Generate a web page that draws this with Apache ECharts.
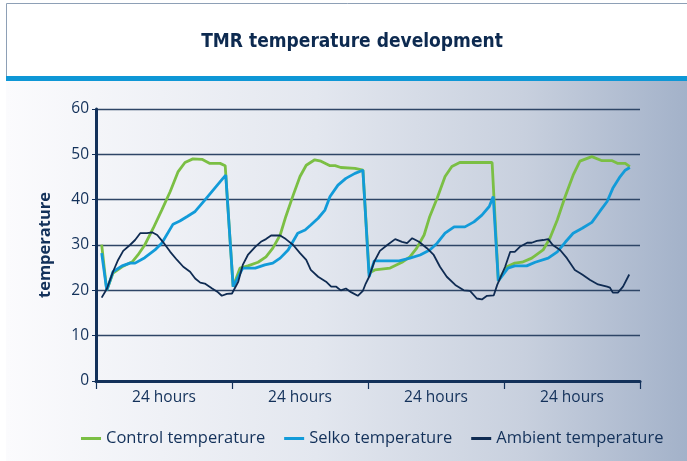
<!DOCTYPE html>
<html>
<head>
<meta charset="utf-8">
<script src="https://cdn.jsdelivr.net/npm/echarts@6/dist/echarts.min.js"></script>
<style>
  html, body { margin: 0; padding: 0; background: #fff; }
  #chart { width: 687px; height: 461px; }
</style>
</head>
<body>
<div id="chart"></div>
<script>
// x = hours over four 24 hour periods, y = temperature
let dayLabels = ["24 hours", "24 hours", "24 hours", "24 hours"];

let control = [
    [1.0, 30.1], [1.9, 20.0], [3.0, 23.8], [4.6, 25.2], [6.4, 26.3], [7.4, 27.8], [8.6, 30.0], [10.1, 33.7],
    [11.6, 37.7], [13.1, 41.8], [14.5, 46.2], [15.7, 48.2], [17.1, 49.0], [18.7, 48.9], [20.1, 48.0], [21.9, 48.0],
    [22.8, 47.5], [24.2, 20.8],
    [25.4, 24.9], [26.8, 25.4], [28.6, 26.2], [30.0, 27.4], [31.2, 29.3], [32.5, 32.2], [33.5, 36.3], [34.8, 41.0],
    [36.0, 45.1], [37.1, 47.6], [38.6, 48.8], [39.7, 48.5], [41.3, 47.5], [42.2, 47.5], [43.2, 47.1], [45.7, 46.9],
    [47.1, 46.5], [48.2, 23.8],
    [49.2, 24.5], [51.9, 24.9], [54.0, 26.2], [55.4, 27.4], [56.6, 29.3], [57.9, 32.2], [58.9, 36.3], [60.2, 40.3],
    [61.6, 45.1], [62.8, 47.3], [64.2, 48.2], [69.9, 48.2], [71.0, 22.1],
    [72.5, 25.2], [73.9, 26.0], [75.2, 26.2], [76.9, 27.1], [78.9, 28.9], [80.1, 31.5], [81.4, 35.5], [82.8, 40.7],
    [84.2, 45.4], [85.4, 48.5], [87.5, 49.5], [89.3, 48.6], [91.1, 48.6], [92.1, 48.0], [93.4, 48.0], [94.2, 47.3]
];

let selko = [
    [1.0, 28.2], [1.9, 20.0], [3.0, 24.1], [4.6, 25.4], [6.0, 26.0], [6.9, 26.0], [8.6, 27.2], [10.4, 28.9],
    [11.6, 30.4], [13.6, 34.6], [14.8, 35.3], [16.1, 36.3], [17.5, 37.4], [19.2, 39.9], [21.0, 42.6], [22.4, 44.7],
    [22.9, 45.4], [24.2, 20.8],
    [25.9, 24.9], [28.1, 24.9], [29.8, 25.6], [31.2, 26.0], [32.5, 27.1], [33.9, 28.9], [35.6, 32.6], [36.9, 33.3],
    [37.9, 34.4], [39.2, 35.9], [40.4, 37.7], [41.3, 40.7], [42.7, 43.2], [44.1, 44.7], [45.7, 45.8], [47.1, 46.5],
    [48.2, 23.0],
    [49.1, 26.5], [51.0, 26.5], [53.5, 26.5], [55.4, 27.1], [57.2, 27.8], [58.9, 28.9], [60.2, 30.4], [61.6, 32.6],
    [63.2, 34.0], [65.1, 34.0], [66.7, 35.1], [68.1, 36.6], [69.4, 38.5], [70.1, 40.7], [71.0, 22.1],
    [72.7, 24.9], [73.9, 25.4], [76.0, 25.4], [77.5, 26.2], [79.8, 27.1], [81.4, 28.5], [82.8, 30.6], [84.2, 32.6],
    [85.8, 33.7], [87.5, 35.0], [88.9, 37.4], [90.2, 39.6], [91.2, 42.5], [92.5, 45.1], [93.4, 46.5], [94.2, 47.1]
];

let ambient = [
    [1.0, 18.4], [1.9, 20.3], [3.0, 24.1], [3.9, 26.7], [4.8, 28.7], [6.0, 30.0], [6.9, 31.1], [7.8, 32.6],
    [9.0, 32.6], [9.9, 32.8], [10.8, 32.2], [11.8, 30.7], [13.1, 28.5], [14.3, 26.7], [15.4, 25.2], [16.6, 24.1],
    [17.5, 22.6], [18.4, 21.7], [19.2, 21.5], [20.5, 20.4], [21.4, 19.7], [22.2, 18.8], [23.1, 19.2], [24.0, 19.3],
    [25.1, 21.9], [25.9, 25.6], [26.8, 27.8], [28.1, 29.6], [29.1, 30.7], [30.0, 31.3], [30.9, 32.1], [32.5, 32.1],
    [33.5, 31.3], [34.8, 30.0], [36.0, 28.2], [37.1, 26.7], [37.9, 24.5], [39.2, 23.0], [40.6, 21.9], [41.5, 20.8],
    [42.4, 20.8], [43.2, 20.0], [44.1, 20.4], [45.0, 19.6], [46.2, 18.8], [47.1, 19.9], [47.6, 21.5],
    [48.2, 23.0], [49.1, 26.3], [50.1, 28.7], [51.4, 30.0], [52.8, 31.3], [54.0, 30.7], [54.9, 30.4], [55.8, 31.5],
    [57.0, 30.7], [58.4, 29.3], [59.6, 27.8], [60.7, 25.2], [61.9, 23.0], [63.4, 21.2], [64.9, 20.0], [66.0, 19.9],
    [67.2, 18.2], [68.1, 18.0], [69.0, 18.8], [70.2, 18.9], [70.8, 21.2],
    [72.2, 25.2], [73.1, 28.5], [73.9, 28.5], [74.8, 29.6], [76.1, 30.5], [76.9, 30.5], [77.8, 30.9], [78.9, 31.1],
    [79.8, 31.3], [80.6, 30.0], [81.9, 28.9], [83.1, 27.1], [84.5, 24.5], [85.8, 23.5], [87.2, 22.3], [88.6, 21.3],
    [90.2, 20.8], [90.7, 20.6], [91.2, 19.5], [92.1, 19.5], [93.0, 20.8], [94.1, 23.5]
];

let navy = "#13315a";
let font = "'Open Sans', 'Noto Sans', sans-serif";

let chart = echarts.init(document.getElementById("chart"), null, { renderer: "canvas" });

let line = (name, data, color, width) => ({
    name: name,
    type: "line",
    data: data,
    xAxisIndex: 0,
    symbol: "none",
    smooth: false,
    lineStyle: { color: color, width: width },
    itemStyle: { color: color },
    z: 3
});

chart.setOption({
    animation: false,
    graphic: [
        // page background gradient
        {
            type: "rect", z: -10, silent: true,
            shape: { x: 6, y: 81, width: 690, height: 390 },
            style: {
                fill: new echarts.graphic.LinearGradient(0, 0, 1, 0, [
                    { offset: 0, color: "#fbfbfd" },
                    { offset: 0.45, color: "#e3e7ef" },
                    { offset: 0.75, color: "#c8d0de" },
                    { offset: 1, color: "#a1b0c8" }
                ])
            }
        },
        // title box
        {
            type: "rect", z: -10, silent: true,
            shape: { x: 6.5, y: 3.5, width: 690, height: 73 },
            style: { fill: "#ffffff", stroke: "#8ea0b6", lineWidth: 1 }
        },
        {
            type: "rect", z: -9, silent: true,
            shape: { x: 6, y: 76, width: 690, height: 5 },
            style: { fill: "#0e97d6" }
        },
        {
            type: "text", z: 5, silent: true,
            x: 352, y: 42,
            style: {
                text: "TMR temperature development",
                fill: "#0d2a50",
                font: "bold 19px 'Liberation Sans Narrow', 'DejaVu Sans Condensed', sans-serif",
                align: "center",
                verticalAlign: "middle"
            }
        }
    ],
    grid: { left: 96, right: 47, top: 109, bottom: 80, containLabel: false },
    legend: {
        left: 76,
        top: 425,
        icon: "rect",
        itemWidth: 20,
        itemHeight: 3,
        itemGap: 19,
        itemStyle: { borderWidth: 0 },
        textStyle: { color: navy, fontSize: 16.5, fontFamily: font },
        data: ["Control temperature", "Selko temperature", "Ambient temperature"]
    },
    xAxis: [
        {
            type: "value",
            min: 0,
            max: 96,
            interval: 24,
            axisLine: { show: true, onZero: false, lineStyle: { color: navy, width: 3 } },
            axisTick: { show: true, length: 8, lineStyle: { color: navy, width: 1.2 } },
            axisLabel: { show: false },
            splitLine: { show: false }
        },
        {
            type: "category",
            data: dayLabels,
            boundaryGap: true,
            position: "bottom",
            axisLine: { show: false },
            axisTick: { show: false },
            axisLabel: { color: navy, fontSize: 15.5, fontFamily: font, margin: 9 },
            splitLine: { show: false }
        }
    ],
    yAxis: {
        type: "value",
        min: 0,
        max: 60,
        interval: 10,
        name: "temperature",
        nameLocation: "middle",
        nameGap: 42,
        nameTextStyle: { color: navy, fontSize: 16.5, fontWeight: "bold", fontFamily: font },
        axisLine: { show: true, lineStyle: { color: navy, width: 3 } },
        axisTick: { show: true, length: 4, lineStyle: { color: navy, width: 1 } },
        axisLabel: { color: navy, fontSize: 15.5, fontFamily: font, margin: 7 },
        splitLine: { show: true, lineStyle: { color: "#2e4566", width: 1.3 } }
    },
    series: [
        line("Control temperature", control, "#7bbf44", 2.8),
        line("Selko temperature", selko, "#129bd9", 2.8),
        line("Ambient temperature", ambient, "#0f2b52", 1.8)
    ]
});
</script>
</body>
</html>
